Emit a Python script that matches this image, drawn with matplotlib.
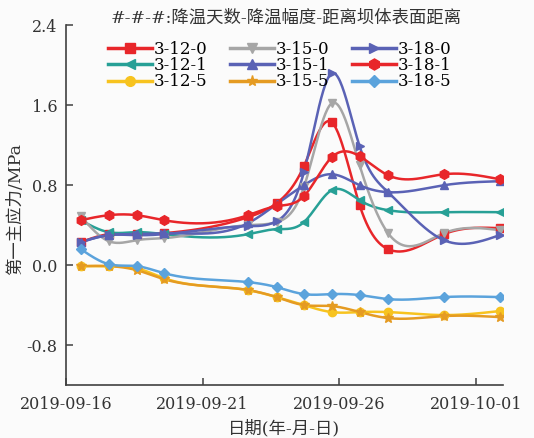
import matplotlib
matplotlib.use("Agg")
import matplotlib.pyplot as plt
import matplotlib.dates as mdates
import numpy as np
import pandas as pd

plt.rcParams['font.family'] = ['DejaVu Serif', 'Noto Sans CJK SC']
plt.rcParams['axes.unicode_minus'] = False

# observation times
dates = pd.to_datetime([
    "2019-09-16 13:00", "2019-09-17 13:30", "2019-09-18 14:00", "2019-09-19 14:00",
    "2019-09-22 16:00", "2019-09-23 17:00", "2019-09-24 17:00", "2019-09-25 17:30",
    "2019-09-26 18:00", "2019-09-27 19:00", "2019-09-29 20:00", "2019-10-01 21:00",
])

# first principal stress (MPa)
s_3_12_0 = [0.23, 0.31, 0.31, 0.32, 0.48, 0.62, 0.99, 1.43, 0.60, 0.16, 0.31, 0.37]
s_3_12_1 = [0.45, 0.33, 0.33, 0.31, 0.31, 0.36, 0.43, 0.75, 0.65, 0.55, 0.53, 0.53]
s_3_12_5 = [-0.01, -0.01, -0.03, -0.13, -0.25, -0.32, -0.40, -0.47, -0.47, -0.47, -0.50, -0.46]
s_3_15_0 = [0.49, 0.24, 0.25, 0.27, 0.40, 0.43, 0.78, 1.62, 1.00, 0.32, 0.32, 0.35]
s_3_15_1 = [0.23, 0.30, 0.31, 0.32, 0.42, 0.61, 0.80, 0.91, 0.80, 0.73, 0.80, 0.84]
s_3_15_5 = [-0.01, -0.01, -0.05, -0.14, -0.25, -0.32, -0.40, -0.41, -0.47, -0.53, -0.51, -0.52]
s_3_18_0 = [0.23, 0.30, 0.30, 0.31, 0.39, 0.44, 0.93, 1.92, 1.19, 0.73, 0.25, 0.30]
s_3_18_1 = [0.45, 0.50, 0.50, 0.45, 0.50, 0.59, 0.69, 1.08, 1.09, 0.90, 0.91, 0.86]
s_3_18_5 = [0.16, 0.01, -0.01, -0.08, -0.17, -0.22, -0.29, -0.29, -0.30, -0.34, -0.32, -0.32]

series = [
    ("3-12-0", s_3_12_0, "#e8262a", "s", 6),
    ("3-12-1", s_3_12_1, "#27a096", "<", 6),
    ("3-12-5", s_3_12_5, "#f7c31f", "o", 6),
    ("3-15-0", s_3_15_0, "#a6a6a6", "v", 6),
    ("3-15-1", s_3_15_1, "#5a62b5", "^", 6),
    ("3-15-5", s_3_15_5, "#e59b22", "*", 7),
    ("3-18-0", s_3_18_0, "#5a62b5", ">", 6),
    ("3-18-1", s_3_18_1, "#e8262a", "h", 7),
    ("3-18-5", s_3_18_5, "#5ba3dc", "D", 5),
]

x_ticks = pd.to_datetime(["2019-09-16", "2019-09-21", "2019-09-26", "2019-10-01"])


def natural_spline(x, y, n=400):
    x = np.asarray(x, float)
    y = np.asarray(y, float)
    k = len(x)
    h = np.diff(x)
    A = np.zeros((k, k))
    b = np.zeros(k)
    A[0, 0] = A[-1, -1] = 1
    for i in range(1, k - 1):
        A[i, i - 1] = h[i - 1]
        A[i, i] = 2 * (h[i - 1] + h[i])
        A[i, i + 1] = h[i]
        b[i] = 6 * ((y[i + 1] - y[i]) / h[i] - (y[i] - y[i - 1]) / h[i - 1])
    m = np.linalg.solve(A, b)
    xs = np.linspace(x[0], x[-1], n)
    j = np.clip(np.searchsorted(x, xs) - 1, 0, k - 2)
    t0 = x[j + 1] - xs
    t1 = xs - x[j]
    hj = h[j]
    ys = (m[j] * t0 ** 3 + m[j + 1] * t1 ** 3) / (6 * hj) \
        + (y[j] / hj - m[j] * hj / 6) * t0 + (y[j + 1] / hj - m[j + 1] * hj / 6) * t1
    return xs, ys


fig = plt.figure(figsize=(5.34, 4.38), dpi=100)
fig.patch.set_facecolor("#fbfbfb")
ax = fig.add_axes([0.1236, 0.121, 0.8184, 0.821])
ax.set_facecolor("#fbfbfb")

xnum = mdates.date2num(dates)
for name, vals, color, marker, ms in series:
    xs, ys = natural_spline(xnum, vals)
    ax.plot(xs, ys, color=color, lw=1.8, zorder=2)
    ax.plot(xnum, vals, ls="none", marker=marker, ms=ms, color=color, zorder=3)
    ax.plot([], [], color=color, lw=2.5, marker=marker, ms=ms + 1, label=name)

ax.set_xlim(mdates.date2num(pd.Timestamp("2019-09-16")), mdates.date2num(pd.Timestamp("2019-10-02")))
ax.set_ylim(-1.2, 2.4)
ax.set_yticks([-0.8, 0.0, 0.8, 1.6, 2.4])
ax.set_xticks(mdates.date2num(x_ticks))
ax.xaxis.set_major_formatter(mdates.DateFormatter("%Y-%m-%d"))

for side in ("top", "right"):
    ax.spines[side].set_visible(False)
for side in ("left", "bottom"):
    ax.spines[side].set_color("#404040")
    ax.spines[side].set_linewidth(1.2)
ax.tick_params(direction="in", length=5, width=1.1, color="#404040",
               labelsize=11.5, labelcolor="#333333")
ax.tick_params(axis="x", pad=8)
ax.tick_params(axis="y", pad=6)

ax.set_xlabel("日期(年-月-日)", fontsize=12.5, color="#333333", labelpad=5)
ax.set_ylabel("第一主应力/MPa", fontsize=12.5, color="#333333")
ax.yaxis.set_label_coords(-0.095, 0.49)

fig.text(0.535, 0.958, "#-#-#:降温天数-降温幅度-距离坝体表面距离",
         ha="center", va="center", fontsize=12.5, color="#333333")

ax.legend(ncol=3, loc="upper center", bbox_to_anchor=(0.49, 0.975),
          frameon=False, fontsize=12, numpoints=1, handlelength=2.6,
          handletextpad=0.15, columnspacing=1.35, labelspacing=-0.05,
          borderaxespad=0)

fig.savefig("out.png", dpi=100, facecolor=fig.get_facecolor())
